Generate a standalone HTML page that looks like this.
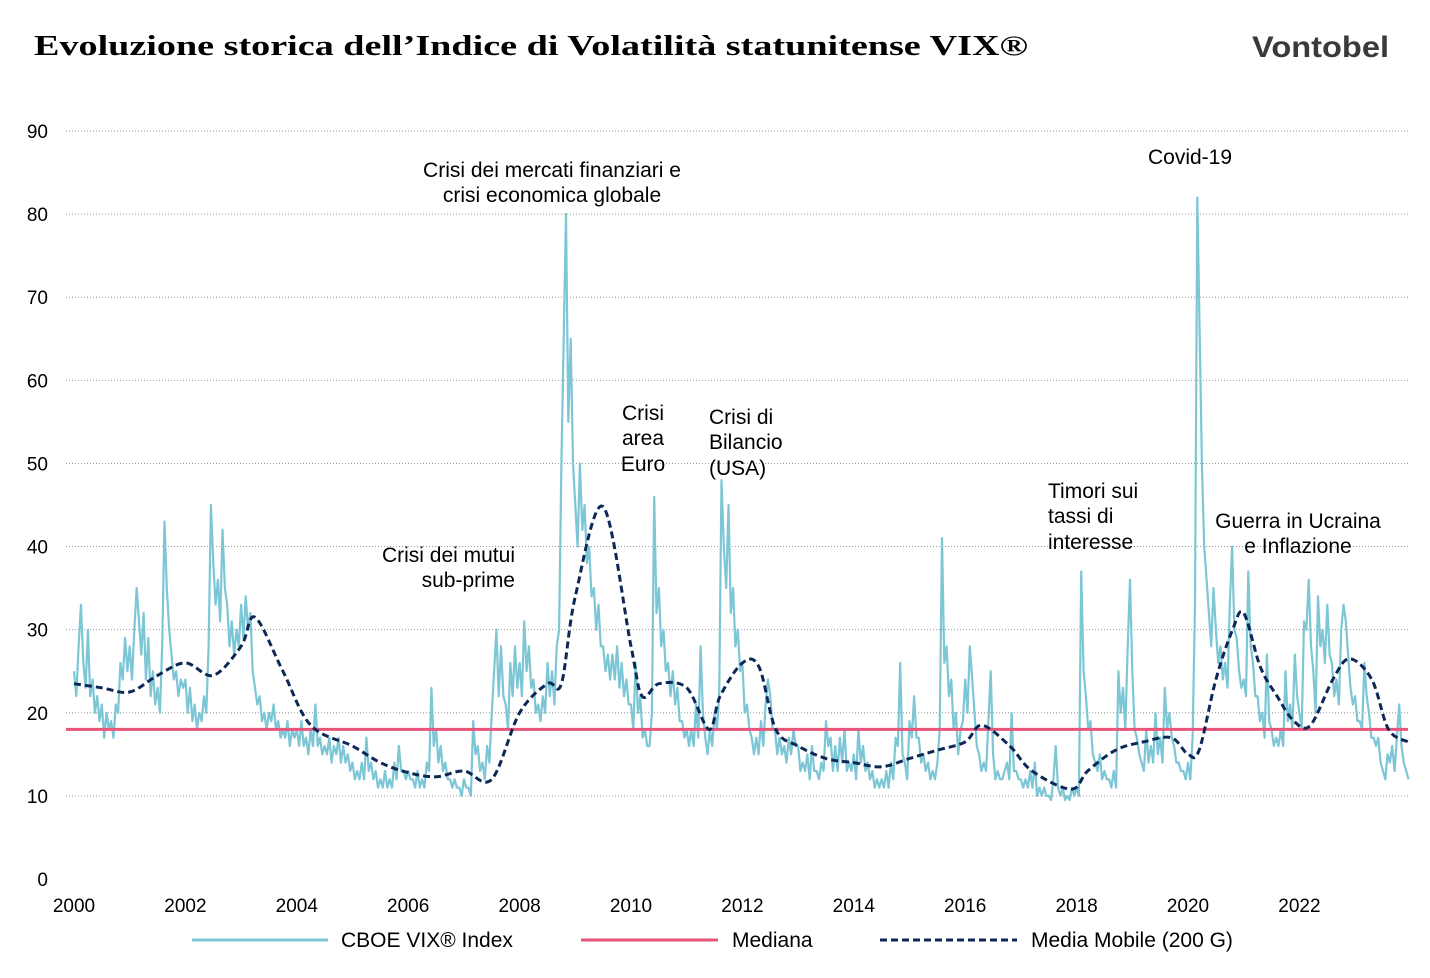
<!DOCTYPE html>
<html><head><meta charset="utf-8"><style>
body{margin:0;background:#fff;}
svg{display:block;font-family:"Liberation Sans",sans-serif;}
</style></head><body>
<svg id="chart" width="1430" height="978" viewBox="0 0 1430 978">
<text x="34" y="55" font-family="Liberation Serif" font-weight="bold" font-size="28" textLength="994" lengthAdjust="spacingAndGlyphs" fill="#000">Evoluzione storica dell’Indice di Volatilità statunitense VIX®</text>
<text x="1252" y="57" font-size="30" font-weight="bold" fill="#3a3a3a" textLength="137" lengthAdjust="spacingAndGlyphs">Vontobel</text>
<g id="grid"></g><g id="marks"></g>
<g font-size="21" fill="#000">
<text x="552" y="177" text-anchor="middle">Crisi dei mercati finanziari e</text>
<text x="552" y="202" text-anchor="middle">crisi economica globale</text>
<text x="1190" y="164" text-anchor="middle">Covid-19</text>
<text x="643" y="420" text-anchor="middle">Crisi</text>
<text x="643" y="445" text-anchor="middle">area</text>
<text x="643" y="471" text-anchor="middle">Euro</text>
<text x="709" y="424">Crisi di</text>
<text x="709" y="449">Bilancio</text>
<text x="709" y="475">(USA)</text>
<text x="515" y="562" text-anchor="end">Crisi dei mutui</text>
<text x="515" y="587" text-anchor="end">sub-prime</text>
<text x="1048" y="498">Timori sui</text>
<text x="1048" y="523">tassi di</text>
<text x="1048" y="549">interesse</text>
<text x="1298" y="528" text-anchor="middle">Guerra in Ucraina</text>
<text x="1298" y="553" text-anchor="middle">e Inflazione</text>
</g>
<g font-size="21">
<line x1="192" y1="940" x2="328" y2="940" stroke="#7cc6d6" stroke-width="3"/>
<text x="341" y="947">CBOE VIX® Index</text>
<line x1="581" y1="940" x2="718" y2="940" stroke="#e8557a" stroke-width="3"/>
<text x="732" y="947">Mediana</text>
<line x1="880" y1="940" x2="1017" y2="940" stroke="#0d2857" stroke-width="3" stroke-dasharray="7,4"/>
<text x="1031" y="947">Media Mobile (200 G)</text>
</g>
</svg>
<script>
// Half-month VIX readings, 24 per year, 2000..2023
const vixByYear = [
[25,22,28,33,26,23,30,22,24,20,22,19,21,17,20,18,19,17,21,20,26,24,29,25],
[28,24,30,35,31,27,32,24,29,22,25,21,23,20,28,43,35,30,27,24,25,22,24,23],
[24,20,23,19,21,18,20,19,22,20,28,45,38,33,36,31,42,35,33,28,31,27,30,28],
[33,29,34,30,32,25,23,21,22,19,20,18,20,19,21,18,19,17,18,17,19,16,18,17],
[18,16,19,16,17,15,18,16,21,16,17,15,16,15,17,14,16,15,17,14,16,14,15,13],
[14,12,13,12,14,12,17,13,14,12,13,11,12,11,13,11,12,11,14,12,16,13,13,12],
[13,12,12,11,13,11,12,11,14,13,23,16,18,14,16,13,14,12,12,11,12,11,11,10],
[12,11,11,10,19,15,16,13,14,12,16,14,20,25,30,22,28,22,21,18,26,22,28,23],
[26,22,31,25,28,23,24,20,21,19,22,20,26,22,25,21,28,30,50,65,80,55,65,50],
[45,40,50,42,45,38,40,34,35,30,33,28,28,25,27,24,27,24,28,23,26,22,24,21],
[21,18,26,20,22,17,18,16,16,20,46,32,35,28,30,25,26,22,25,21,23,19,19,17],
[18,16,18,16,21,17,28,20,17,15,18,16,20,18,22,48,40,35,45,32,35,28,30,25],
[26,20,21,18,17,15,17,15,19,16,21,24,22,18,18,15,17,15,16,14,17,15,18,16],
[16,13,14,13,15,12,16,13,13,12,14,13,19,16,17,13,16,13,17,14,18,13,14,13],
[15,12,18,14,16,13,14,12,13,11,12,11,12,11,13,11,14,12,17,16,26,15,14,12],
[19,17,22,17,17,14,15,13,14,12,13,12,14,18,41,26,28,22,24,18,20,15,18,19],
[24,20,28,24,20,16,15,13,14,13,19,25,15,12,13,12,12,13,14,12,20,13,13,12],
[12,11,12,11,13,11,14,10,11,10,11,10,10,9.5,12,16,11,10,11,9.5,10,9.5,11,10],
[11,10,37,25,22,18,19,15,14,13,15,12,13,12,12,11,13,11,25,20,23,18,28,36],
[25,18,17,15,14,13,18,14,16,14,20,15,17,14,23,18,20,17,16,14,14,13,13,12],
[14,12,17,33,82,66,50,40,36,32,28,35,30,26,28,24,26,23,33,40,30,29,25,23],
[24,22,37,28,26,22,22,19,20,17,27,19,18,16,17,16,18,16,25,19,21,18,27,22],
[20,18,31,30,36,28,25,20,34,28,30,26,33,27,26,22,24,21,30,33,31,27,23,21],
[22,19,19,18,26,22,20,17,17,16,17,14,13,12,15,14,16,13,17,21,16,14,13,12]];
const startYear = 2000;
const maDates = [2000,2000.5,2001,2001.5,2002,2002.5,2003,2003.25,2003.75,2004.25,2005,2005.5,2006,2006.5,2007,2007.5,2008,2008.5,2008.75,2009,2009.5,2010,2010.2,2010.5,2011,2011.4,2011.6,2012,2012.3,2012.6,2013,2013.5,2014,2014.5,2015,2015.5,2016,2016.3,2016.8,2017.2,2017.9,2018.2,2018.7,2019.2,2019.7,2020,2020.2,2020.5,2020.8,2021,2021.3,2021.6,2021.9,2022.2,2022.6,2022.9,2023.3,2023.6,2023.95];
const maValues = [23.5,23,22.5,24.5,26,24.5,28,31.5,25,18.5,16,14,12.8,12.3,13,12,20,23.5,23.5,34,44.8,28,22,23.5,23,18,22,26,25.5,18,16,14.5,14,13.5,14.5,15.5,16.5,18.5,16,13,10.8,13,15.5,16.5,17,15,15.5,24,30,32,25.5,22,19,18.5,24,26.5,24,18,16.5];
const medianValue = 18;
const yTicks = [0,10,20,30,40,50,60,70,80,90];
const xTickYears = [2000,2002,2004,2006,2008,2010,2012,2014,2016,2018,2020,2022];

const NS="http://www.w3.org/2000/svg";
const xS = yr => 74 + (yr - 2000) * 55.7;
const yS = v => 879 - v * 8.311;
const grid=document.getElementById('grid'), marks=document.getElementById('marks');
function mk(tag, attrs, parent){const e=document.createElementNS(NS,tag);for(const k in attrs)e.setAttribute(k,attrs[k]);parent.appendChild(e);return e;}
yTicks.forEach(t=>{
  if(t>0){const l=mk('line',{x1:66,x2:1408,y1:yS(t),y2:yS(t),stroke:'#999','stroke-width':1,'stroke-dasharray':'1,2'},grid);
  
  }
  const tx=mk('text',{x:48,y:yS(t)+7,'text-anchor':'end','font-size':19},grid);tx.textContent=t;
  
  
});
xTickYears.forEach(y=>{
  const tx=mk('text',{x:xS(y),y:912,'text-anchor':'middle','font-size':19},grid);tx.textContent=y;
  
  
});
let pts=[];
vixByYear.forEach((arr,i)=>arr.forEach((v,j)=>{const yr=startYear+i+j/24;pts.push(xS(yr).toFixed(1)+','+yS(v).toFixed(1));}));
const vix=mk('polyline',{points:pts.join(' '),fill:'none',stroke:'#7cc6d6','stroke-width':2.2,'stroke-linejoin':'round'},marks);


const med=mk('line',{x1:66,x2:1408,y1:yS(medianValue),y2:yS(medianValue),stroke:'#e8557a','stroke-width':3},marks);


const maPts=maDates.map((d,i)=>[xS(d),yS(maValues[i])]);
let dPath='M'+maPts[0][0]+','+maPts[0][1];
for(let i=1;i<maPts.length;i++){const p0=maPts[Math.max(0,i-2)],p1=maPts[i-1],p2=maPts[i],p3=maPts[Math.min(maPts.length-1,i+1)];
  const c1=[p1[0]+(p2[0]-p0[0])/6,p1[1]+(p2[1]-p0[1])/6],c2=[p2[0]-(p3[0]-p1[0])/6,p2[1]-(p3[1]-p1[1])/6];
  dPath+=` C${c1[0].toFixed(1)},${c1[1].toFixed(1)} ${c2[0].toFixed(1)},${c2[1].toFixed(1)} ${p2[0].toFixed(1)},${p2[1].toFixed(1)}`;}
const ma=mk('path',{d:dPath,fill:'none',stroke:'#0d2857','stroke-width':3,'stroke-dasharray':'7,4'},marks);


</script>
</body></html>
